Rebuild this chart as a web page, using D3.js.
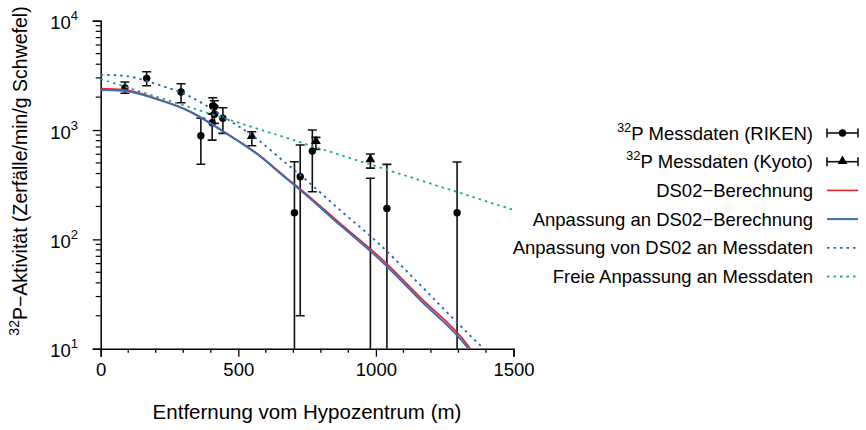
<!DOCTYPE html>
<html>
<head>
<meta charset="utf-8">
<script src="https://cdn.jsdelivr.net/npm/d3@7"></script>
<style>
  html, body { margin: 0; padding: 0; background: #fff; }
  svg { display: block; font-family: "Liberation Sans", Arial, sans-serif; }
</style>
</head>
<body>
<svg id="chart" width="866" height="430"></svg>
<script>
// RIKEN measurements: distance (m), activity, lower and upper error limits
const rikenDist  = [88, 167, 292, 364, 405, 407, 413, 413, 444, 704, 725, 769, 980, 1040, 1295];
const rikenValue = [2420, 2970, 2228, 887, 1166, 1659, 1634, 1393, 1280, 175, 374, 642, 6, 192, 175];
const rikenLow   = [2167, 2543, 1778, 486, 809, 1400, 1420, 1150, 933, 1, 20, 273, 1, 1, 1];
const rikenHigh  = [2748, 3415, 2652, 1280, 1400, 1975, 1854, 1650, 1600, 513, 729, 1000, 362, 485, 510];

// Kyoto measurements
const kyotoDist  = [549, 782, 980];
const kyotoValue = [869, 781, 532];
const kyotoLow   = [718, 665, 448];
const kyotoHigh  = [964, 857, 603];

// DS02 calculation and fitted curves
const curveDist      = [0, 81, 205, 325, 445, 568, 677, 725, 870, 1016, 1161, 1336, 1392];
const ds02Values     = [2390, 2340, 1930, 1480, 975, 610, 362, 290, 140, 68, 29.5, 10.6, 6.5];
const fitDs02Values  = [2323, 2291, 1909, 1470, 969, 603, 356, 283, 135, 64.7, 27.9, 10, 6.2];
const fitDataValues  = [3200, 3140, 2620, 2020, 1330, 828, 488, 388, 185, 88.8, 38.3, 13.7, 10];

const freeDist   = [0, 300, 600, 900, 1200, 1500];
const freeValues = [2928, 1686, 973, 560, 323, 186];

const xTicks = [0, 500, 1000, 1500];
const yTicks = [10, 100, 1000, 10000];

const legendLabels = [
  ["32", "P Messdaten (RIKEN)"],
  ["32", "P Messdaten (Kyoto)"],
  ["", "DS02\u2212Berechnung"],
  ["", "Anpassung an DS02\u2212Berechnung"],
  ["", "Anpassung von DS02 an Messdaten"],
  ["", "Freie Anpassung an Messdaten"]
];

const RED = "#e3242b", BLUE = "#3a6db5", BLUE_DOT = "#2a64b4", GREEN = "#1fa88a";

const svg = d3.select("#chart");
const x = d3.scaleLinear().domain([0, 1500]).range([100.7, 513.5]);
const y = d3.scaleLog().domain([10, 10000]).range([348.7, 20.7]);

// clip region for marks
svg.append("defs").append("clipPath").attr("id", "plotClip")
  .append("rect").attr("x", x(0)).attr("y", y(10000) - 10)
  .attr("width", x(1500) - x(0) + 1).attr("height", y(10) - y(10000) + 10);

// ---- axes ----
const axisG = svg.append("g");
const xAxis = d3.axisBottom(x).tickValues(xTicks).tickSize(8).tickPadding(6).tickFormat(d3.format("d"));
const gx = axisG.append("g").attr("transform", `translate(0,${y(10)})`).call(xAxis);
gx.select(".domain").attr("stroke", "#000").attr("stroke-width", 1.5);
gx.selectAll(".tick line").attr("stroke", "#000").attr("stroke-width", 1.3);
gx.selectAll(".tick text").attr("font-size", 18.5).attr("fill", "#000").attr("font-family", "Liberation Sans, Arial, sans-serif");
const xMinor = d3.range(100, 1500, 100).filter(v => v % 500 !== 0);
axisG.append("g").selectAll("line").data(xMinor).join("line")
  .attr("x1", d => x(d)).attr("x2", d => x(d))
  .attr("y1", y(10)).attr("y2", y(10) + 4)
  .attr("stroke", "#000").attr("stroke-width", 1.3);

const yAxis = d3.axisLeft(y).tickValues(yTicks).tickSize(8).tickFormat("");
const gy = axisG.append("g").attr("transform", `translate(${x(0)},0)`).call(yAxis);
gy.select(".domain").attr("stroke", "#000").attr("stroke-width", 1.5);
gy.selectAll(".tick line").attr("stroke", "#000").attr("stroke-width", 1.3);
const yMinor = [];
[10, 100, 1000].forEach(b => { for (let k = 2; k <= 9; k++) yMinor.push(b * k); });
axisG.append("g").selectAll("line").data(yMinor).join("line")
  .attr("x1", x(0) - 5).attr("x2", x(0))
  .attr("y1", d => y(d)).attr("y2", d => y(d))
  .attr("stroke", "#000").attr("stroke-width", 1.2);

// power-of-ten labels
const yLab = axisG.append("g").selectAll("text").data(yTicks).join("text")
  .attr("x", 78).attr("y", d => y(d) + 8.5)
  .attr("text-anchor", "end").attr("font-size", 18.5).attr("fill", "#000");
yLab.append("tspan").text("10");
yLab.append("tspan").attr("font-size", 13).attr("dy", -9).text(d => Math.round(Math.log10(d)));

// axis titles
svg.append("text").attr("x", 307).attr("y", 419).attr("text-anchor", "middle")
  .attr("font-size", 20.5).attr("fill", "#000").text("Entfernung vom Hypozentrum (m)");
const yt = svg.append("text").attr("transform", "translate(27,171) rotate(-90)")
  .attr("text-anchor", "middle").attr("font-size", 19.5).attr("fill", "#000");
yt.append("tspan").attr("font-size", 14).attr("dy", -8).text("32");
yt.append("tspan").attr("dy", 8).text("P\u2212Aktivit\u00e4t (Zerf\u00e4lle/min/g Schwefel)");

// ---- data with error bars ----
const plot = svg.append("g").attr("clip-path", "url(#plotClip)");
const CAP = 4.5;

function errorBars(g, dist, lo, hi) {
  const idx = d3.range(dist.length);
  g.selectAll(null).data(idx).join("line")
    .attr("x1", i => x(dist[i])).attr("x2", i => x(dist[i]))
    .attr("y1", i => y(lo[i])).attr("y2", i => y(hi[i]))
    .attr("stroke", "#111").attr("stroke-width", 1.6);
  [lo, hi].forEach(arr => {
    g.selectAll(null).data(idx).join("line")
      .attr("x1", i => x(dist[i]) - CAP).attr("x2", i => x(dist[i]) + CAP)
      .attr("y1", i => y(arr[i])).attr("y2", i => y(arr[i]))
      .attr("stroke", "#111").attr("stroke-width", 1.6);
  });
}
const riken = plot.append("g");
errorBars(riken, rikenDist, rikenLow, rikenHigh);
riken.selectAll("circle").data(d3.range(rikenDist.length)).join("circle")
  .attr("cx", i => x(rikenDist[i])).attr("cy", i => y(rikenValue[i]))
  .attr("r", 3.7).attr("fill", "#000");

const tri = d3.symbol().type(d3.symbolTriangle).size(42);
const kyoto = plot.append("g");
errorBars(kyoto, kyotoDist, kyotoLow, kyotoHigh);
kyoto.selectAll("path").data(d3.range(kyotoDist.length)).join("path")
  .attr("d", tri)
  .attr("transform", i => `translate(${x(kyotoDist[i])},${y(kyotoValue[i]) - 0.5})`)
  .attr("fill", "#000");

// ---- curves ----
const line = (dist) => d3.line()
  .x((d, i) => x(dist[i])).y(d => y(d)).curve(d3.curveMonotoneX);

plot.append("path").datum(ds02Values).attr("d", line(curveDist))
  .attr("fill", "none").attr("stroke", RED).attr("stroke-width", 1.6);
plot.append("path").datum(fitDs02Values).attr("d", line(curveDist))
  .attr("fill", "none").attr("stroke", BLUE).attr("stroke-width", 2);
plot.append("path").datum(fitDataValues).attr("d", line(curveDist))
  .attr("fill", "none").attr("stroke", BLUE_DOT).attr("stroke-width", 1.8)
  .attr("stroke-dasharray", "2.5,4");
plot.append("path").datum(freeValues).attr("d", line(freeDist))
  .attr("fill", "none").attr("stroke", GREEN).attr("stroke-width", 1.8)
  .attr("stroke-dasharray", "2.5,4");

// ---- legend ----
const legendY = d3.scalePoint().domain(d3.range(6)).range([133, 276.5]);
const lg = svg.append("g");
const rows = lg.selectAll("g").data(d3.range(6)).join("g")
  .attr("transform", i => `translate(0,${legendY(i)})`);
const lt = rows.append("text").attr("x", 813).attr("y", 6.5)
  .attr("text-anchor", "end").attr("font-size", 18.5).attr("fill", "#000");
lt.append("tspan").attr("font-size", 13).attr("dy", i => legendLabels[i][0] ? -8 : 0)
  .text(i => legendLabels[i][0]);
lt.append("tspan").attr("dy", i => legendLabels[i][0] ? 8 : 0).text(i => legendLabels[i][1]);

const X0 = 827, X1 = 858;
[0, 1].forEach(i => {
  const r = rows.filter(d => d === i);
  r.append("line").attr("x1", X0).attr("x2", X1).attr("y1", 0).attr("y2", 0)
    .attr("stroke", "#111").attr("stroke-width", 1.6);
  [X0, X1].forEach(xx => r.append("line").attr("x1", xx).attr("x2", xx)
    .attr("y1", -CAP).attr("y2", CAP).attr("stroke", "#111").attr("stroke-width", 1.6));
  if (i === 0) r.append("circle").attr("cx", (X0 + X1) / 2).attr("cy", 0).attr("r", 3.7).attr("fill", "#000");
  else r.append("path").attr("d", tri).attr("transform", `translate(${(X0 + X1) / 2},-0.5)`).attr("fill", "#000");
});
const styles = [null, null,
  { c: RED, w: 1.6, dash: null },
  { c: BLUE, w: 2, dash: null },
  { c: BLUE_DOT, w: 1.8, dash: "2.5,4" },
  { c: GREEN, w: 1.8, dash: "2.5,4" }];
[2, 3, 4, 5].forEach(i => {
  rows.filter(d => d === i).append("line")
    .attr("x1", X0).attr("x2", X1).attr("y1", 0).attr("y2", 0)
    .attr("stroke", styles[i].c).attr("stroke-width", styles[i].w)
    .attr("stroke-dasharray", styles[i].dash);
});
</script>
</body>
</html>
